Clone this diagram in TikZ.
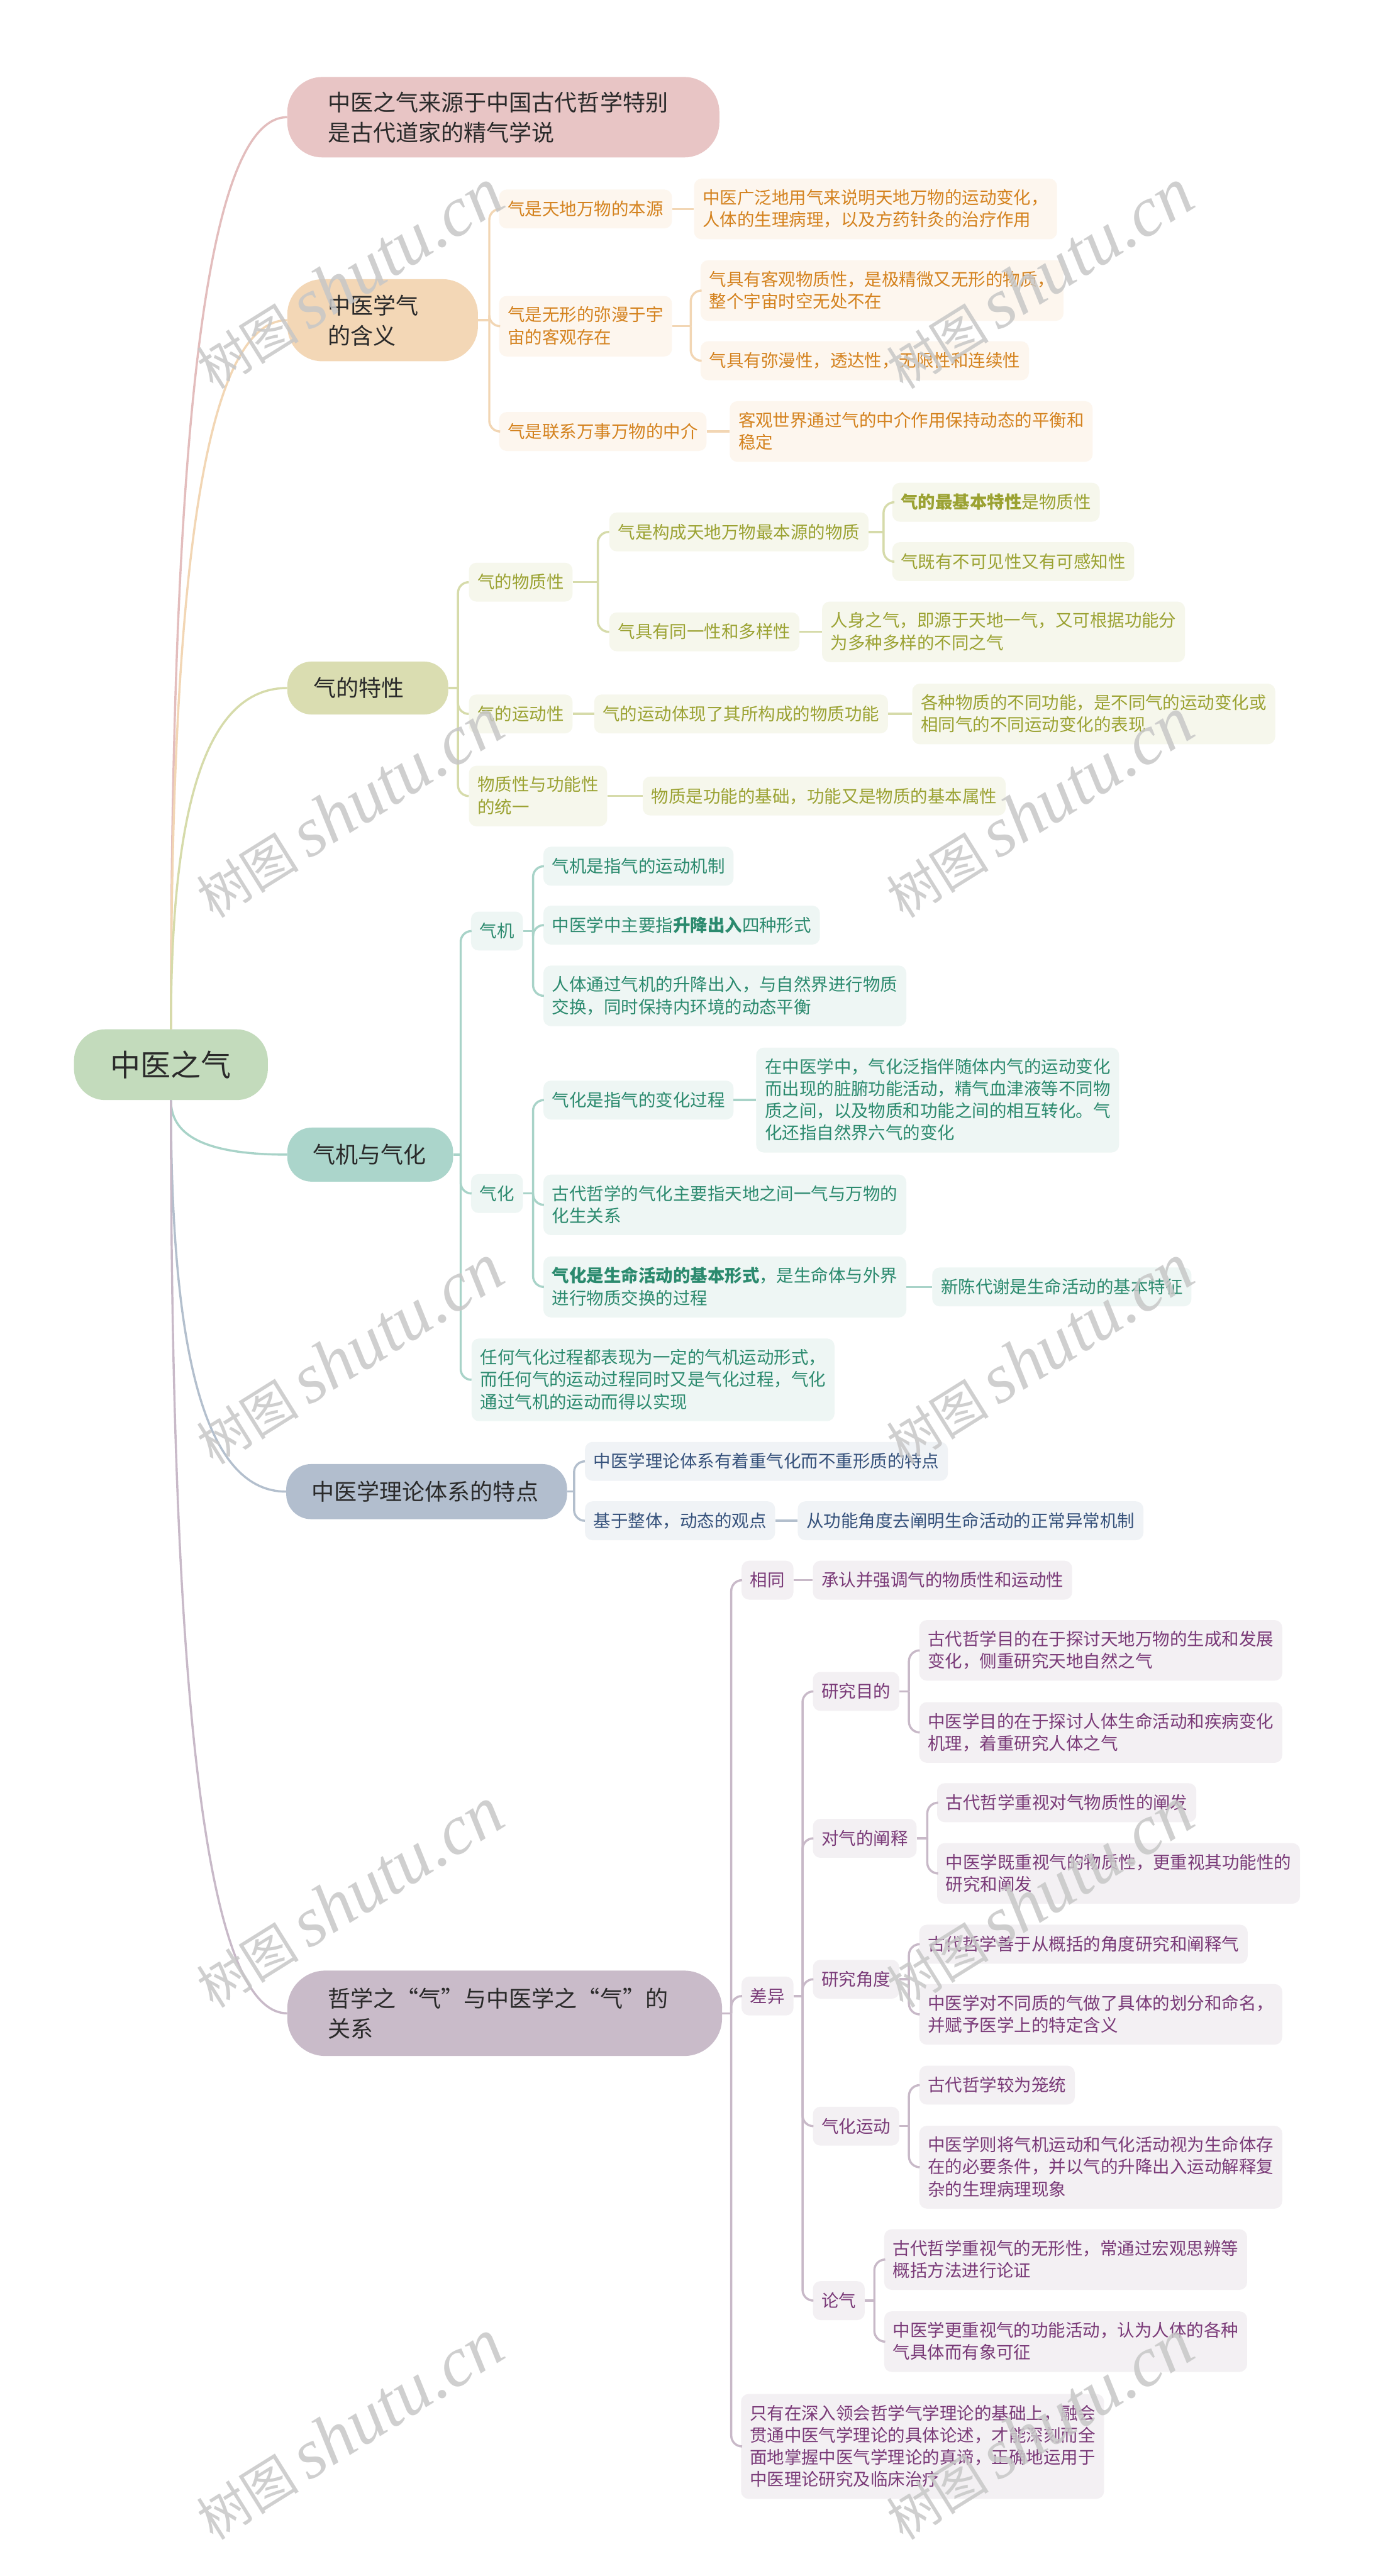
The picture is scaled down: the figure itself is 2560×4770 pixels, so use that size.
\documentclass[tikz,border=0pt]{standalone}
\usepackage{fontspec}
\setmainfont{Noto Sans CJK SC}
\newfontfamily\wmlatin{Liberation Serif}
\definecolor{rootf}{HTML}{C3DBBC}
\definecolor{tt}{HTML}{2A2A2A}
\definecolor{n1f}{HTML}{E8C5C5}\definecolor{k1}{HTML}{E3BDBD}
\definecolor{n2f}{HTML}{F3D7B6}\definecolor{k2}{HTML}{F2D6B4}
\definecolor{n3f}{HTML}{DADDB1}\definecolor{k3}{HTML}{D6DBAA}
\definecolor{n4f}{HTML}{ABD5CB}\definecolor{k4}{HTML}{A8D3C8}
\definecolor{n5f}{HTML}{B2BECE}\definecolor{k5}{HTML}{B3BFCD}
\definecolor{n6f}{HTML}{C9BBC9}\definecolor{k6}{HTML}{C8B9C8}
\definecolor{f2}{HTML}{FDF6EE}\definecolor{t2}{HTML}{D4821E}
\definecolor{f3}{HTML}{F6F7EC}\definecolor{t3}{HTML}{9BA232}
\definecolor{f4}{HTML}{EEF6F4}\definecolor{t4}{HTML}{2B8A6E}
\definecolor{f5}{HTML}{F0F3F6}\definecolor{t5}{HTML}{35517B}
\definecolor{f6}{HTML}{F3F0F3}\definecolor{t6}{HTML}{7A3A78}
\newcommand\leafstrut{\rule[-4pt]{0pt}{32pt}}
\begin{document}
\begin{tikzpicture}[x=1pt,y=-1pt,
  leaf/.style={anchor=west, align=left, font=\fontsize{32}{41}\selectfont, inner xsep=16pt, inner ysep=20pt, rounded corners=14pt, execute at begin node=\leafstrut, execute at end node=\leafstrut},
  s2/.style={leaf, fill=f2, text=t2},
  s3/.style={leaf, fill=f3, text=t3},
  s4/.style={leaf, fill=f4, text=t4},
  s5/.style={leaf, fill=f5, text=t5},
  s6/.style={leaf, fill=f6, text=t6},
  topic/.style={align=left, font=\fontsize{42}{56}\selectfont, text=tt, inner ysep=0pt},
  cn/.style={line width=4pt},
  c1/.style={cn, draw=k1}, c2/.style={cn, draw=k2}, c3/.style={cn, draw=k3},
  c4/.style={cn, draw=k4}, c5/.style={cn, draw=k5}, c6/.style={cn, draw=k6},
  brc/.style={rounded corners=20pt},
  wm/.style={text=black!22, inner sep=0pt, rotate=32, opacity=0.85}
]
\fill[white] (0,0) rectangle (2560,4770);
\useasboundingbox (0,0) rectangle (2560,4770);

% root and main topics
\node[fill=rootf, text=tt, font=\fontsize{56}{60}\selectfont, minimum width=359pt, minimum height=131pt, rounded corners=58pt, inner sep=0pt] (root) at (316.5,1971.5) {中医之气};
\node[topic, fill=n1f, inner xsep=75pt, text width=650pt, minimum height=149pt, rounded corners=65pt] (n1) at (932,217) {中医之气来源于中国古代哲学特别\\是古代道家的精气学说};
\node[topic, fill=n2f, inner xsep=75pt, text width=203pt, minimum height=152pt, rounded corners=65pt] (n2) at (708.5,593) {中医学气\\的含义};
\node[topic, fill=n3f, inner xsep=48pt, text width=202pt, minimum height=98pt, rounded corners=45pt] (n3) at (681,1274) {气的特性};
\node[topic, fill=n4f, inner xsep=47pt, text width=213pt, minimum height=100pt, rounded corners=45pt] (n4) at (685.5,2138) {气机与气化};
\node[topic, fill=n5f, inner xsep=47pt, text width=426pt, minimum height=102pt, rounded corners=46pt] (n5) at (790,2762) {中医学理论体系的特点};
\node[topic, fill=n6f, inner xsep=75pt, text width=655pt, minimum height=158pt, rounded corners=70pt] (n6) at (934.5,3728) {哲学之“气”与中医学之“气”的\\关系};

\draw[c1] (root.north) .. controls (316.5,893) and (370,217) .. (n1.west);
\draw[c2] (root.north) .. controls (316.5,1118) and (370,593) .. (n2.west);
\draw[c3] (root.north) .. controls (316.5,1527) and (370,1274) .. (n3.west);
\draw[c4] (root.south) .. controls (316.5,2098) and (370,2138) .. (n4.west);
\draw[c5] (root.south) .. controls (316.5,2472) and (370,2762) .. (n5.west);
\draw[c6] (root.south) .. controls (316.5,3052) and (370,3728) .. (n6.west);

% section 2
\node[s2] (a1) at (924,387) {气是天地万物的本源};
\node[s2] (a1c) at (1285,387) {中医广泛地用气来说明天地万物的运动变化，\\人体的生理病理，以及方药针灸的治疗作用};
\node[s2] (a2) at (924,604) {气是无形的弥漫于宇\\宙的客观存在};
\node[s2] (a21) at (1297,538) {气具有客观物质性，是极精微又无形的物质，\\整个宇宙时空无处不在};
\node[s2] (a22) at (1297,668) {气具有弥漫性，透达性，无限性和连续性};
\node[s2] (a3) at (924,799) {气是联系万事万物的中介};
\node[s2] (a3c) at (1351,799) {客观世界通过气的中介作用保持动态的平衡和\\稳定};
\coordinate (t2) at (906,593);
\coordinate (t2b) at (1279,604);
\draw[c2] (n2.east) -- (t2);
\draw[c2,brc] (t2) |- (a1.west);
\draw[c2,brc] (t2) |- (a2.west);
\draw[c2,brc] (t2) |- (a3.west);
\draw[c2] (a1.east) -- (a1c.west);
\draw[c2] (a2.east) -- (t2b);
\draw[c2,brc] (t2b) |- (a21.west);
\draw[c2,brc] (t2b) |- (a22.west);
\draw[c2] (a3.east) -- (a3c.west);

% section 3
\node[s3] (b1) at (868,1078) {气的物质性};
\node[s3] (b11) at (1128,985) {气是构成天地万物最本源的物质};
\node[s3] (b111) at (1652,930) {\textbf{气的最基本特性}是物质性};
\node[s3] (b112) at (1652,1040) {气既有不可见性又有可感知性};
\node[s3] (b12) at (1128,1170) {气具有同一性和多样性};
\node[s3] (b12c) at (1522,1170) {人身之气，即源于天地一气，又可根据功能分\\为多种多样的不同之气};
\node[s3] (b2) at (868,1322) {气的运动性};
\node[s3] (b21) at (1100,1322) {气的运动体现了其所构成的物质功能};
\node[s3] (b211) at (1689,1322) {各种物质的不同功能，是不同气的运动变化或\\相同气的不同运动变化的表现};
\node[s3] (b3) at (868,1474) {物质性与功能性\\的统一};
\node[s3] (b31) at (1190,1474) {物质是功能的基础，功能又是物质的基本属性};
\coordinate (t3) at (848,1274);
\coordinate (t3b) at (1107,1078);
\coordinate (t3c) at (1636,985);
\draw[c3] (n3.east) -- (t3);
\draw[c3,brc] (t3) |- (b1.west);
\draw[c3,brc] (t3) |- (b2.west);
\draw[c3,brc] (t3) |- (b3.west);
\draw[c3] (b1.east) -- (t3b);
\draw[c3,brc] (t3b) |- (b11.west);
\draw[c3,brc] (t3b) |- (b12.west);
\draw[c3] (b11.east) -- (t3c);
\draw[c3,brc] (t3c) |- (b111.west);
\draw[c3,brc] (t3c) |- (b112.west);
\draw[c3] (b12.east) -- (b12c.west);
\draw[c3] (b2.east) -- (b21.west);
\draw[c3] (b21.east) -- (b211.west);
\draw[c3] (b3.east) -- (b31.west);

% section 4
\node[s4] (c1n) at (872,1724) {气机};
\node[s4] (c11) at (1006,1604) {气机是指气的运动机制};
\node[s4] (c12) at (1006,1713) {中医学中主要指\textbf{升降出入}四种形式};
\node[s4] (c13) at (1006,1844) {人体通过气机的升降出入，与自然界进行物质\\交换，同时保持内环境的动态平衡};
\node[s4] (c2n) at (872,2210) {气化};
\node[s4] (c21) at (1006,2037) {气化是指气的变化过程};
\node[s4] (c211) at (1400,2037) {在中医学中，气化泛指伴随体内气的运动变化\\而出现的脏腑功能活动，精气血津液等不同物\\质之间，以及物质和功能之间的相互转化。气\\化还指自然界六气的变化};
\node[s4] (c22) at (1006,2231) {古代哲学的气化主要指天地之间一气与万物的\\化生关系};
\node[s4] (c23) at (1006,2383) {\textbf{气化是生命活动的基本形式}，是生命体与外界\\进行物质交换的过程};
\node[s4] (c231) at (1726,2383) {新陈代谢是生命活动的基本特征};
\node[s4] (c3n) at (873,2555) {任何气化过程都表现为一定的气机运动形式，\\而任何气的运动过程同时又是气化过程，气化\\通过气机的运动而得以实现};
\coordinate (t4) at (853,2138);
\coordinate (t4b) at (987,1724);
\coordinate (t4c) at (987,2210);
\draw[c4] (n4.east) -- (t4);
\draw[c4,brc] (t4) |- (c1n.west);
\draw[c4,brc] (t4) |- (c2n.west);
\draw[c4,brc] (t4) |- (c3n.west);
\draw[c4] (c1n.east) -- (t4b);
\draw[c4,brc] (t4b) |- (c11.west);
\draw[c4,brc] (t4b) |- (c12.west);
\draw[c4,brc] (t4b) |- (c13.west);
\draw[c4] (c2n.east) -- (t4c);
\draw[c4,brc] (t4c) |- (c21.west);
\draw[c4,brc] (t4c) |- (c22.west);
\draw[c4,brc] (t4c) |- (c23.west);
\draw[c4] (c21.east) -- (c211.west);
\draw[c4] (c23.east) -- (c231.west);

% section 5
\node[s5] (d1) at (1083,2706) {中医学理论体系有着重气化而不重形质的特点};
\node[s5] (d2) at (1083,2816) {基于整体，动态的观点};
\node[s5] (d21) at (1477,2816) {从功能角度去阐明生命活动的正常异常机制};
\coordinate (t5) at (1063,2762);
\draw[c5] (n5.east) -- (t5);
\draw[c5,brc] (t5) |- (d1.west);
\draw[c5,brc] (t5) |- (d2.west);
\draw[c5] (d2.east) -- (d21.west);

% section 6
\node[s6] (e1) at (1373,2926) {相同};
\node[s6] (e11) at (1505,2926) {承认并强调气的物质性和运动性};
\node[s6] (e2) at (1373,3696) {差异};
\node[s6] (e21) at (1505,3132) {研究目的};
\node[s6] (e211) at (1702,3056) {古代哲学目的在于探讨天地万物的生成和发展\\变化，侧重研究天地自然之气};
\node[s6] (e212) at (1702,3208) {中医学目的在于探讨人体生命活动和疾病变化\\机理，着重研究人体之气};
\node[s6] (e22) at (1505,3404) {对气的阐释};
\node[s6] (e221) at (1735,3338) {古代哲学重视对气物质性的阐发};
\node[s6] (e222) at (1735,3469) {中医学既重视气的物质性，更重视其功能性的\\研究和阐发};
\node[s6] (e23) at (1505,3665) {研究角度};
\node[s6] (e231) at (1702,3600) {古代哲学善于从概括的角度研究和阐释气};
\node[s6] (e232) at (1702,3730) {中医学对不同质的气做了具体的划分和命名，\\并赋予医学上的特定含义};
\node[s6] (e24) at (1505,3937) {气化运动};
\node[s6] (e241) at (1702,3861) {古代哲学较为笼统};
\node[s6] (e242) at (1702,4013) {中医学则将气机运动和气化活动视为生命体存\\在的必要条件，并以气的升降出入运动解释复\\杂的生理病理现象};
\node[s6] (e25) at (1505,4260) {论气};
\node[s6] (e251) at (1637,4184) {古代哲学重视气的无形性，常通过宏观思辨等\\概括方法进行论证};
\node[s6] (e252) at (1637,4336) {中医学更重视气的功能活动，认为人体的各种\\气具体而有象可征};
\node[s6] (e3) at (1372,4530) {只有在深入领会哲学气学理论的基础上，融会\\贯通中医气学理论的具体论述，才能深刻而全\\面地掌握中医气学理论的真谛，正确地运用于\\中医理论研究及临床治疗};
\coordinate (t6) at (1354,3728);
\coordinate (t6b) at (1486,3696);
\coordinate (t6c) at (1683,3132);
\coordinate (t6d) at (1717,3404);
\coordinate (t6e) at (1683,3665);
\coordinate (t6f) at (1683,3937);
\coordinate (t6g) at (1619,4260);
\draw[c6] (n6.east) -- (t6);
\draw[c6,brc] (t6) |- (e1.west);
\draw[c6,brc] (t6) |- (e2.west);
\draw[c6,brc] (t6) |- (e3.west);
\draw[c6] (e1.east) -- (e11.west);
\draw[c6] (e2.east) -- (t6b);
\draw[c6,brc] (t6b) |- (e21.west);
\draw[c6,brc] (t6b) |- (e22.west);
\draw[c6,brc] (t6b) |- (e23.west);
\draw[c6,brc] (t6b) |- (e24.west);
\draw[c6,brc] (t6b) |- (e25.west);
\draw[c6] (e21.east) -- (t6c);
\draw[c6,brc] (t6c) |- (e211.west);
\draw[c6,brc] (t6c) |- (e212.west);
\draw[c6] (e22.east) -- (t6d);
\draw[c6,brc] (t6d) |- (e221.west);
\draw[c6,brc] (t6d) |- (e222.west);
\draw[c6] (e23.east) -- (t6e);
\draw[c6,brc] (t6e) |- (e231.west);
\draw[c6,brc] (t6e) |- (e232.west);
\draw[c6] (e24.east) -- (t6f);
\draw[c6,brc] (t6f) |- (e241.west);
\draw[c6,brc] (t6f) |- (e242.west);
\draw[c6] (e25.east) -- (t6g);
\draw[c6,brc] (t6g) |- (e251.west);
\draw[c6,brc] (t6g) |- (e252.west);

% watermarks
\foreach \wx/\wy/\wn in {647/517/1,1924/517/2,647/1496/3,1924/1496/4,647/2508/5,1924/2508/6,647/3514/7,1924/3514/8,647/4499/9,1924/4499/10}{
  \node[wm] (w\wn) at (\wx,\wy) {{\fontsize{95}{95}\selectfont 树图}\hspace{18pt}{\wmlatin\itshape\fontsize{130}{130}\selectfont shutu.cn}};
}
\end{tikzpicture}
\end{document}
